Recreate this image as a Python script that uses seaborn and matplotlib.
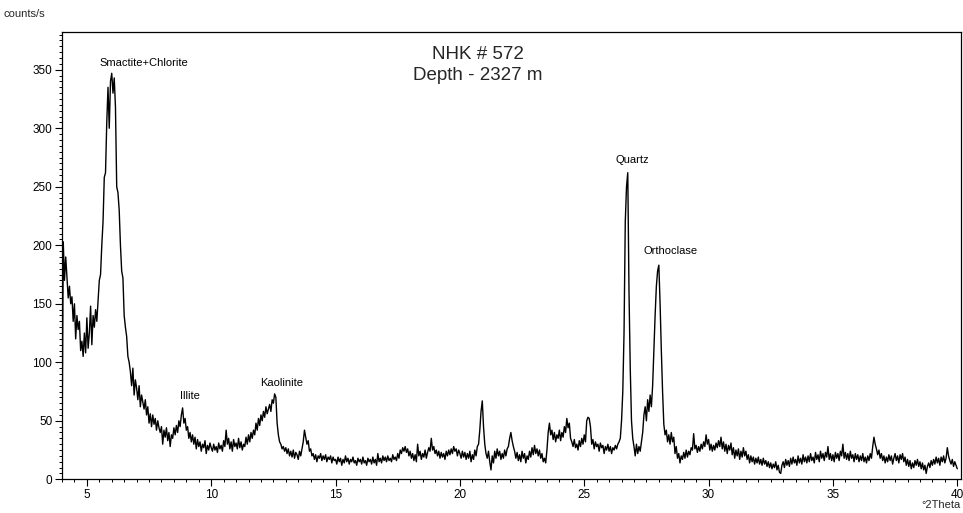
import numpy as np
import pandas as pd
import matplotlib
matplotlib.use("Agg")
import matplotlib.pyplot as plt
from matplotlib.ticker import MultipleLocator
import seaborn as sns

# XRD intensities (counts/s), read every 0.05 deg 2Theta from 4.00 to 40.00
counts = [
    17, 203, 170, 190, 172, 155, 165, 150, 156, 135, 150, 120, 140, 128, 135, 110, 118, 105, 125, 108,   # 4
    138, 112, 125, 148, 115, 140, 130, 145, 135, 152, 170, 175, 200, 220, 258, 262, 305, 335, 300, 340,  # 5
    347, 330, 343, 318, 250, 245, 230, 200, 178, 172, 140, 130, 122, 105, 100, 92, 80, 95, 72, 85,        # 6
    78, 68, 80, 62, 72, 66, 60, 68, 55, 62, 48, 56, 45, 55, 47, 52, 42, 50, 44, 40,                       # 7
    45, 30, 42, 36, 44, 33, 40, 28, 38, 35, 44, 38, 46, 40, 50, 45, 55, 61, 48, 52,                       # 8
    42, 45, 35, 40, 32, 38, 30, 36, 26, 34, 28, 32, 24, 30, 27, 33, 22, 29, 25, 31,                       # 9
    27, 24, 30, 25, 28, 23, 31, 26, 29, 24, 33, 28, 42, 30, 35, 26, 32, 24, 34, 28,                       # 10
    31, 26, 35, 27, 32, 25, 30, 28, 36, 30, 38, 32, 40, 35, 42, 38, 48, 42, 52, 46,                       # 11
    55, 50, 58, 53, 62, 56, 60, 64, 58, 68, 65, 73, 70, 48, 38, 32, 30, 26, 28, 24,                       # 12
    27, 22, 26, 20, 24, 19, 25, 18, 23, 21, 17, 24, 20, 26, 32, 42, 36, 30, 33, 24,                       # 13
    26, 20, 22, 17, 21, 15, 20, 18, 22, 16, 20, 17, 21, 15, 19, 17, 20, 14, 19, 16,                       # 14
    17, 13, 19, 15, 18, 12, 17, 14, 20, 15, 18, 13, 17, 15, 19, 14, 16, 12, 18, 15,                       # 15
    17, 13, 19, 14, 16, 12, 18, 15, 17, 13, 19, 14, 17, 12, 22, 15, 18, 14, 20, 16,                       # 16
    19, 15, 20, 16, 18, 15, 21, 17, 19, 16, 22, 18, 25, 22, 27, 24, 28, 23, 26, 20,                       # 17
    24, 18, 22, 16, 21, 15, 30, 20, 24, 17, 22, 19, 25, 18, 23, 27, 24, 35, 25, 28,                       # 18
    22, 25, 20, 24, 18, 23, 19, 22, 17, 24, 20, 25, 21, 26, 22, 28, 24, 26, 20, 25,                       # 19
    22, 18, 24, 19, 23, 17, 22, 18, 24, 15, 21, 17, 25, 20, 28, 30, 42, 58, 67, 45,                       # 20
    30, 22, 18, 24, 15, 8, 20, 14, 24, 18, 26, 20, 24, 17, 22, 18, 25, 20, 26, 28,                        # 21
    35, 40, 33, 28, 24, 18, 23, 16, 21, 15, 24, 18, 22, 14, 20, 17, 24, 19, 27, 21,                       # 22
    29, 22, 26, 20, 25, 18, 22, 15, 18, 14, 25, 40, 48, 38, 42, 34, 40, 32, 38, 35,                       # 23
    42, 33, 40, 36, 45, 40, 52, 44, 48, 35, 32, 28, 34, 27, 30, 25, 33, 28, 35, 30,                       # 24
    38, 32, 50, 53, 52, 45, 30, 34, 26, 32, 28, 30, 24, 31, 27, 29, 22, 28, 25, 30,                       # 25
    24, 28, 22, 27, 25, 29, 26, 30, 32, 35, 50, 75, 125, 220, 250, 262, 160, 95, 50, 35,                  # 26
    28, 20, 30, 22, 28, 24, 32, 40, 55, 62, 50, 68, 58, 72, 62, 80, 110, 140, 165, 178,                   # 27
    183, 150, 110, 75, 47, 38, 42, 32, 38, 30, 40, 32, 36, 22, 28, 18, 22, 14, 20, 17,                    # 28
    23, 18, 25, 19, 24, 21, 27, 25, 39, 26, 29, 23, 28, 24, 30, 26, 32, 28, 38, 30,                       # 29
    34, 25, 30, 24, 29, 25, 31, 27, 33, 28, 36, 26, 32, 24, 30, 22, 29, 25, 31, 21,                       # 30
    27, 18, 25, 20, 26, 17, 24, 19, 27, 20, 24, 17, 21, 14, 20, 15, 19, 13, 18, 14,                       # 31
    19, 13, 17, 12, 18, 13, 16, 11, 15, 10, 14, 9, 13, 10, 15, 8, 12, 6, 5, 12,                           # 32
    15, 10, 17, 12, 16, 11, 18, 13, 19, 14, 17, 12, 20, 14, 18, 13, 21, 15, 19, 14,                       # 33
    20, 15, 22, 16, 19, 14, 23, 17, 21, 15, 24, 18, 22, 16, 23, 19, 28, 17, 22, 16,                       # 34
    21, 15, 23, 18, 22, 16, 24, 20, 30, 18, 23, 17, 22, 16, 24, 18, 21, 15, 22, 17,                       # 35
    21, 15, 20, 16, 22, 15, 19, 14, 20, 16, 22, 18, 28, 36, 30, 26, 21, 25, 18, 22,                       # 36
    16, 20, 14, 19, 15, 21, 16, 20, 13, 18, 22, 16, 20, 14, 21, 17, 22, 15, 19, 12,                       # 37
    17, 11, 16, 9, 14, 10, 16, 12, 17, 11, 15, 9, 14, 8, 12, 5, 11, 14, 10, 16,                           # 38
    12, 17, 13, 19, 14, 18, 12, 19, 15, 20, 14, 18, 27, 20, 16, 13, 17, 11, 15, 12,                       # 39
    9,                                                                                                    # 40
]
theta_start = 4.0
theta_step = 0.05
two_theta = np.round(theta_start + theta_step * np.arange(len(counts)), 2)

# peak annotations
peak_labels = ["Smactite+Chlorite", "Illite", "Kaolinite", "Quartz", "Orthoclase"]
peak_label_x = [7.29, 9.14, 12.84, 26.94, 28.47]
peak_label_y = [356, 71, 82, 273, 195]

title_lines = ["NHK # 572", "Depth - 2327 m"]
x_ticks = [5, 10, 15, 20, 25, 30, 35, 40]
y_ticks = [0, 50, 100, 150, 200, 250, 300, 350]

df = pd.DataFrame({"two_theta": two_theta, "counts": counts})

sns.set_theme(style="ticks")
plt.rcParams["font.family"] = ["Liberation Sans", "DejaVu Sans"]

fig = plt.figure(figsize=(9.63, 5.13), dpi=100)
W, H = 963, 513
ax = fig.add_axes([62 / W, (H - 479.3) / H, (961 - 62) / W, (479.3 - 32.3) / H])

sns.lineplot(data=df, x="two_theta", y="counts", ax=ax, color="black",
             linewidth=1.0, estimator=None, sort=False)

ax.set_xlim(4.0, 40.15)
ax.set_ylim(0, 382)
ax.set_xticks(x_ticks)
ax.set_yticks(y_ticks)
ax.xaxis.set_minor_locator(MultipleLocator(0.5))
ax.yaxis.set_minor_locator(MultipleLocator(5))
ax.tick_params(axis="both", which="major", direction="out", length=5, width=0.8,
               labelsize=8.5, colors="black", pad=2)
ax.tick_params(axis="both", which="minor", direction="out", length=2.5, width=0.7,
               colors="black")
ax.set_xlabel("")
ax.set_ylabel("")
for s in ax.spines.values():
    s.set_visible(True)
    s.set_color("black")
    s.set_linewidth(0.9)

for lab, lx, ly in zip(peak_labels, peak_label_x, peak_label_y):
    ax.text(lx, ly, lab, ha="center", va="center", fontsize=8, color="black")

fig.text(478 / W, 1 - 55 / H, title_lines[0], ha="center", va="center", fontsize=13.5)
fig.text(478 / W, 1 - 76 / H, title_lines[1], ha="center", va="center", fontsize=13.5)
fig.text(3 / W, 1 - 14 / H, "counts/s", ha="left", va="center", fontsize=8)
fig.text(961 / W, 1 - 505 / H, "°2Theta", ha="right", va="center", fontsize=8)

fig.savefig("out.png", dpi=100)
